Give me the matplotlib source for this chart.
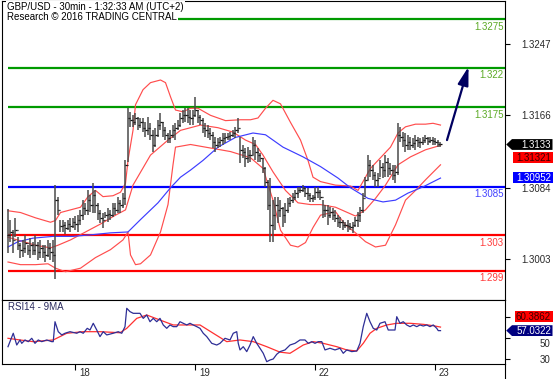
import matplotlib
matplotlib.use("Agg")
import matplotlib.pyplot as plt
from matplotlib.patches import Polygon
from matplotlib.lines import Line2D
from matplotlib.transforms import ScaledTranslation

plt.rcParams['font.family'] = ['Liberation Sans', 'DejaVu Sans']

# ---------------- data ----------------
title_line1 = "GBP/USD - 30min - 1:32:33 AM (UTC+2)"
title_line2 = "Research \u00a9 2016 TRADING CENTRAL"
rsi_title = "RSI14 - 9MA"

high = [1.3060, 1.3048, 1.3036, 1.3050, 1.3028, 1.3021, 1.3025, 1.3031, 1.3019, 1.3027,
        1.3023, 1.3031, 1.3023, 1.3025, 1.3019, 1.3019, 1.3025, 1.3021, 1.3025, 1.3087,
        1.3074, 1.3048, 1.3048, 1.3045, 1.3048, 1.3050, 1.3050, 1.3052, 1.3053, 1.3059,
        1.3070, 1.3067, 1.3081, 1.3076, 1.3089, 1.3081, 1.3067, 1.3059, 1.3055, 1.3057,
        1.3061, 1.3059, 1.3067, 1.3067, 1.3074, 1.3070, 1.3078, 1.3115, 1.3174, 1.3170,
        1.3166, 1.3169, 1.3164, 1.3163, 1.3163, 1.3158, 1.3164, 1.3157, 1.3149, 1.3152,
        1.3161, 1.3169, 1.3158, 1.3153, 1.3146, 1.3149, 1.3155, 1.3157, 1.3161, 1.3169,
        1.3172, 1.3174, 1.3174, 1.3172, 1.3172, 1.3187, 1.3172, 1.3166, 1.3163, 1.3157,
        1.3155, 1.3152, 1.3147, 1.3141, 1.3140, 1.3141, 1.3146, 1.3146, 1.3146, 1.3147,
        1.3149, 1.3153, 1.3163, 1.3141, 1.3132, 1.3129, 1.3130, 1.3127, 1.3141, 1.3138,
        1.3129, 1.3123, 1.3118, 1.3108, 1.3093, 1.3095, 1.3070, 1.3074, 1.3074, 1.3070,
        1.3062, 1.3067, 1.3072, 1.3074, 1.3078, 1.3081, 1.3085, 1.3085, 1.3087, 1.3085,
        1.3084, 1.3078, 1.3076, 1.3085, 1.3085, 1.3081, 1.3070, 1.3065, 1.3065, 1.3062,
        1.3061, 1.3059, 1.3053, 1.3051, 1.3048, 1.3045, 1.3048, 1.3044, 1.3045, 1.3051,
        1.3057, 1.3062, 1.3078, 1.3096, 1.3121, 1.3115, 1.3110, 1.3102, 1.3101, 1.3115,
        1.3112, 1.3121, 1.3118, 1.3112, 1.3110, 1.3110, 1.3157, 1.3153, 1.3147, 1.3146,
        1.3144, 1.3141, 1.3140, 1.3144, 1.3141, 1.3140, 1.3141, 1.3144, 1.3141, 1.3141,
        1.3141, 1.3140, 1.3138, 1.3136]

low = [1.3010, 1.3023, 1.3010, 1.3028, 1.3014, 1.3005, 1.3006, 1.3010, 1.3008, 1.3005,
       1.3008, 1.3008, 1.3002, 1.3005, 1.3005, 1.3000, 1.3006, 1.3002, 1.3000, 1.2981,
       1.3053, 1.3034, 1.3034, 1.3032, 1.3036, 1.3034, 1.3038, 1.3036, 1.3034, 1.3042,
       1.3048, 1.3053, 1.3053, 1.3057, 1.3055, 1.3055, 1.3048, 1.3044, 1.3038, 1.3050,
       1.3045, 1.3048, 1.3051, 1.3053, 1.3055, 1.3055, 1.3061, 1.3065, 1.3113, 1.3153,
       1.3153, 1.3155, 1.3149, 1.3152, 1.3147, 1.3141, 1.3144, 1.3138, 1.3124, 1.3130,
       1.3141, 1.3149, 1.3141, 1.3138, 1.3135, 1.3135, 1.3140, 1.3138, 1.3149, 1.3153,
       1.3157, 1.3158, 1.3157, 1.3155, 1.3155, 1.3164, 1.3157, 1.3155, 1.3146, 1.3141,
       1.3140, 1.3138, 1.3129, 1.3124, 1.3129, 1.3130, 1.3132, 1.3135, 1.3138, 1.3138,
       1.3141, 1.3140, 1.3146, 1.3112, 1.3118, 1.3108, 1.3112, 1.3113, 1.3121, 1.3115,
       1.3113, 1.3113, 1.3101, 1.3085, 1.3059, 1.3023, 1.3023, 1.3036, 1.3044, 1.3051,
       1.3040, 1.3044, 1.3055, 1.3062, 1.3067, 1.3070, 1.3072, 1.3078, 1.3079, 1.3074,
       1.3070, 1.3068, 1.3068, 1.3070, 1.3072, 1.3070, 1.3050, 1.3051, 1.3042, 1.3050,
       1.3048, 1.3045, 1.3040, 1.3039, 1.3036, 1.3039, 1.3034, 1.3036, 1.3033, 1.3040,
       1.3040, 1.3045, 1.3055, 1.3074, 1.3093, 1.3096, 1.3093, 1.3085, 1.3085, 1.3096,
       1.3095, 1.3096, 1.3096, 1.3099, 1.3093, 1.3089, 1.3099, 1.3136, 1.3130, 1.3124,
       1.3127, 1.3127, 1.3129, 1.3127, 1.3130, 1.3129, 1.3132, 1.3135, 1.3132, 1.3135,
       1.3132, 1.3132, 1.3130, 1.3130]

close = [1.3031, 1.3034, 1.3025, 1.3036, 1.3019, 1.3014, 1.3016, 1.3021, 1.3014, 1.3019,
         1.3014, 1.3019, 1.3011, 1.3016, 1.3011, 1.3008, 1.3016, 1.3011, 1.3008, 1.3070,
         1.3059, 1.3041, 1.3042, 1.3038, 1.3043, 1.3041, 1.3045, 1.3043, 1.3048, 1.3053,
         1.3061, 1.3059, 1.3070, 1.3065, 1.3076, 1.3065, 1.3055, 1.3050, 1.3048, 1.3053,
         1.3054, 1.3053, 1.3061, 1.3059, 1.3067, 1.3065, 1.3072, 1.3110, 1.3163, 1.3161,
         1.3158, 1.3163, 1.3155, 1.3158, 1.3152, 1.3149, 1.3152, 1.3144, 1.3132, 1.3144,
         1.3155, 1.3158, 1.3149, 1.3144, 1.3140, 1.3144, 1.3149, 1.3152, 1.3155, 1.3163,
         1.3166, 1.3166, 1.3164, 1.3163, 1.3166, 1.3172, 1.3164, 1.3161, 1.3152, 1.3149,
         1.3146, 1.3144, 1.3136, 1.3132, 1.3136, 1.3138, 1.3140, 1.3141, 1.3143, 1.3144,
         1.3146, 1.3149, 1.3152, 1.3127, 1.3124, 1.3118, 1.3121, 1.3121, 1.3132, 1.3124,
         1.3121, 1.3118, 1.3106, 1.3091, 1.3065, 1.3042, 1.3053, 1.3065, 1.3059, 1.3061,
         1.3053, 1.3059, 1.3067, 1.3070, 1.3074, 1.3078, 1.3081, 1.3081, 1.3084, 1.3078,
         1.3076, 1.3072, 1.3074, 1.3079, 1.3079, 1.3074, 1.3059, 1.3059, 1.3053, 1.3057,
         1.3053, 1.3050, 1.3045, 1.3045, 1.3042, 1.3042, 1.3041, 1.3040, 1.3042, 1.3048,
         1.3053, 1.3059, 1.3072, 1.3093, 1.3110, 1.3104, 1.3099, 1.3093, 1.3095, 1.3108,
         1.3104, 1.3113, 1.3106, 1.3104, 1.3099, 1.3102, 1.3144, 1.3141, 1.3138, 1.3132,
         1.3136, 1.3132, 1.3135, 1.3138, 1.3136, 1.3136, 1.3138, 1.3140, 1.3137, 1.3138,
         1.3137, 1.3136, 1.3133, 1.3133]

bb_up_idx = [0, 5, 11, 17, 19, 21, 25, 29, 32, 35, 38, 42, 45, 47, 48, 50, 51, 54, 57, 61,
             63, 65, 67, 70, 73, 76, 81, 87, 93, 97, 100, 103, 106, 109, 113, 117, 120, 122,
             125, 131, 137, 140, 142, 145, 149, 153, 156, 159, 163, 167, 170, 173]
bb_up = [1.3058, 1.3056, 1.3050, 1.3045, 1.3047, 1.3056, 1.3059, 1.3062, 1.3074, 1.3081,
         1.3074, 1.3075, 1.3079, 1.3089, 1.3115, 1.3149, 1.3178, 1.3195, 1.3203, 1.3206,
         1.3203, 1.3187, 1.3172, 1.3170, 1.3174, 1.3174, 1.3166, 1.3160, 1.3161, 1.3161,
         1.3163, 1.3174, 1.3183, 1.3179, 1.3158, 1.3138, 1.3115, 1.3096, 1.3091, 1.3087,
         1.3086, 1.3081, 1.3091, 1.3106, 1.3118, 1.3130, 1.3146, 1.3153, 1.3156, 1.3156,
         1.3157, 1.3155]

bb_mid_idx = [0, 5, 11, 17, 20, 25, 31, 37, 43, 47, 50, 57, 64, 69, 77, 84, 90, 95, 99, 102,
              106, 111, 116, 121, 125, 131, 135, 139, 143, 147, 151, 156, 161, 167, 173]
bb_mid = [1.3028, 1.3024, 1.3019, 1.3016, 1.3019, 1.3025, 1.3034, 1.3043, 1.3053, 1.3059,
          1.3087, 1.3121, 1.3138, 1.3149, 1.3155, 1.3152, 1.3147, 1.3138, 1.3133, 1.3121,
          1.3102, 1.3081, 1.3067, 1.3065, 1.3065, 1.3062, 1.3057, 1.3052, 1.3059, 1.3072,
          1.3087, 1.3110, 1.3119, 1.3127, 1.3132]

bb_low_idx = [0, 5, 11, 16, 19, 23, 29, 35, 41, 46, 48, 49, 51, 53, 57, 61, 64, 66, 67, 73,
              81, 89, 97, 102, 106, 109, 113, 116, 119, 122, 125, 131, 135, 139, 143, 147,
              151, 155, 159, 163, 167, 173]
bb_low = [1.3000, 1.2997, 1.2997, 1.2998, 1.2993, 1.2989, 1.2993, 1.3005, 1.3014, 1.3025,
          1.3034, 1.3008, 1.2997, 1.2998, 1.3008, 1.3034, 1.3065, 1.3110, 1.3130, 1.3133,
          1.3129, 1.3125, 1.3118, 1.3106, 1.3070, 1.3036, 1.3019, 1.3017, 1.3022, 1.3039,
          1.3053, 1.3057, 1.3042, 1.3033, 1.3023, 1.3017, 1.3019, 1.3042, 1.3070, 1.3081,
          1.3093, 1.3110]

ma_idx = [0, 4, 10, 18, 26, 34, 41, 48, 53, 60, 65, 69, 73, 78, 84, 91, 98, 103, 110, 118,
          125, 132, 137, 144, 150, 155, 160, 166, 173]
ma = [1.3017, 1.3023, 1.3027, 1.3029, 1.3029, 1.3031, 1.3033, 1.3034, 1.3048, 1.3067,
      1.3084, 1.3096, 1.3104, 1.3115, 1.3130, 1.3141, 1.3146, 1.3144, 1.3130, 1.3119,
      1.3108, 1.3095, 1.3084, 1.3072, 1.3068, 1.3070, 1.3078, 1.3085, 1.3095]

rsi_idx = [0, 2.1, 3.5, 4.8, 5.5, 6.8, 8.1, 9.5, 10.8, 12.1, 13.5, 15.5, 17.5, 18.1, 18.8,
           20.1, 21.5, 22.8, 24.8, 27.5, 28.8, 30.1, 31.7, 32.8, 34.1, 35.5, 36.8, 38.1, 39.5,
           42.1, 44.1, 45.5, 46.8, 47.5, 48.8, 50.1, 51.5, 52.8, 54.1, 55.5, 56.8, 58.1, 59.5,
           60.8, 62.1, 63.5, 64.8, 66.1, 67.5, 68.8, 70.1, 71.5, 72.8, 74.1, 75.5, 76.8, 78.1,
           79.5, 81.5, 83.5, 84.8, 86.8, 88.8, 90.1, 91.5, 92.1, 92.8, 94.1, 95.5, 96.8, 98.1,
           99.5, 100.8, 102.1, 103.5, 104.8, 106.1, 107.5, 108.8, 110.8, 112.8, 114.8, 116.8,
           118.8, 120.1, 121.5, 122.8, 124.1, 125.5, 126.8, 128.8, 130.8, 132.8, 134.1, 135.5,
           137.5, 139.5, 140.8, 142.1, 143.5, 144.8, 146.1, 147.5, 148.8, 150.8, 152.1, 153.5,
           154.8, 155.5, 156.8, 158.1, 159.5, 160.8, 162.1, 163.5, 164.8, 166.1, 167.5, 168.8,
           170.1, 171.5, 172.1, 173]
rsi = [41.7, 54.5, 43.3, 48.1, 44.9, 48.1, 46.5, 49.7, 44.9, 48.1, 46.5, 48.1, 46.5, 46.5, 65.5,
       56.0, 52.9, 54.5, 56.0, 54.5, 56.0, 54.5, 59.2, 57.6, 64.0, 57.6, 51.3, 56.0, 52.9,
       54.5, 56.0, 54.5, 60.8, 78.3, 75.1, 73.5, 73.5, 73.5, 68.7, 71.9, 65.5, 68.7, 65.5,
       68.7, 62.4, 59.2, 62.4, 60.8, 60.8, 65.5, 64.0, 62.4, 64.0, 62.4, 60.8, 59.2, 54.5,
       51.3, 44.9, 43.3, 44.9, 49.7, 48.1, 54.5, 56.0, 44.9, 38.6, 41.7, 37.0, 43.3, 51.3,
       44.9, 40.2, 35.4, 27.4, 29.0, 30.0, 34.5, 37.0, 38.6, 43.3, 44.9, 48.1,
       48.1, 44.9, 46.5, 44.9, 46.5, 46.5, 38.6, 40.2, 38.6, 40.2, 35.4, 38.6,
       37.0, 37.6, 44.9, 60.8, 73.5, 65.5, 59.2, 57.6, 64.0, 65.5, 57.6, 57.6,
       57.6, 70.3, 64.0, 65.5, 62.4, 60.8, 62.4, 60.8, 62.4, 61.4, 62.4, 60.8,
       62.4, 59.2, 57.0, 57.0]

rsi_ma_idx = [0, 4.8, 10.1, 18.1, 23.5, 30.1, 36.8, 44.8, 47.5, 51.5, 55.5, 60.8, 66.1, 71.5,
              76.8, 82.1, 87.5, 92.8, 98.1, 103.5, 108.8, 112.8, 118.1, 122.1, 126.1, 131.5,
              135.5, 139.5, 142.1, 144.8, 147.5, 151.5, 155.5, 160.8, 166.1, 170.1, 173]
rsi_ma = [49.7, 48.1, 46.5, 48.1, 54.5, 56.0, 56.0, 55.0, 59.2, 68.7, 71.9, 67.1, 62.4, 62.4,
          62.4, 54.5, 46.5, 48.1, 46.5, 41.7, 36.5, 35.4, 43.3, 46.5, 44.9, 41.7,
          38.6, 37.6, 44.9, 54.5, 59.2, 62.4, 64.0, 64.0, 63.0, 61.7, 60.4]

day_ticks = [27, 75, 123, 171]
day_labels = ["18", "19", "22", "23"]
price_ticks = [1.3003, 1.3084, 1.3166, 1.3247]
rsi_ticks = [30, 50, 70]
rsi_tick_labels = ["30", "50", ""]   # the 70 label is hidden behind the MA tag

green_levels = [1.3275, 1.322, 1.3175]
green_labels = ["1.3275", "1.322", "1.3175"]
blue_levels = [1.3085]
blue_labels = ["1.3085"]
red_levels = [1.303, 1.299]
red_labels = ["1.303", "1.299"]

last_price = 1.3133
bb_mid_last = 1.31321
ma_last = 1.30952
rsi_last = 57.0322
rsi_ma_last = 60.3862

arrow_from = (175.6, 1.3138)
arrow_to = (184.2, 1.3221)

# ---------------- layout ----------------
W, H = 558, 379
fig = plt.figure(figsize=(W / 100, H / 100), dpi=100)
fig.patch.set_facecolor('white')


def fx(px):
    return px / W


def fy(py):
    return 1 - py / H


ax = fig.add_axes([fx(2), fy(300), fx(505) - fx(2), fy(1) - fy(300)])
ax2 = fig.add_axes([fx(2), fy(364), fx(505) - fx(2), fy(300) - fy(364)])
XL = (-2.4, 198.8)
for a in (ax, ax2):
    a.set_xlim(*XL)
    for s in a.spines.values():
        s.set_linewidth(0.8)
        s.set_color('black')
ax.set_ylim(1.29570, 1.32954)
ax2.set_ylim(25.2, 86.2)

# ---------------- main panel ----------------
idx = list(range(len(close)))
opens = [close[0]] + close[:-1]
ax.vlines(idx, low, high, colors='#4a4a4a', lw=1.1, zorder=4)
ax.hlines(opens, [i - 0.55 for i in idx], idx, colors='#111111', lw=0.9, zorder=4)
ax.hlines(close, idx, [i + 0.55 for i in idx], colors='#111111', lw=0.9, zorder=4)

ax.plot(bb_up_idx, bb_up, color='#ff4d4d', lw=0.85, zorder=3)
ax.plot(bb_mid_idx, bb_mid, color='#ff4d4d', lw=0.85, zorder=3)
ax.plot(bb_low_idx, bb_low, color='#ff4d4d', lw=0.85, zorder=3)
ax.plot(ma_idx, ma, color='#3d3dff', lw=0.85, zorder=3)

for lv_list, lab_list, lc, tc in ((green_levels, green_labels, '#009a00', '#5caa26'),
                                  (blue_levels, blue_labels, '#0000ff', '#4040ff'),
                                  (red_levels, red_labels, '#ff0000', '#ff3b3b')):
    ax.hlines(lv_list, 0, XL[1], colors=lc, lw=1.6, zorder=2)
    for lv, lab in zip(lv_list, lab_list):
        ax.annotate(lab, xy=(1, lv), xycoords=('axes fraction', 'data'), xytext=(-1, -1.8),
                    textcoords='offset points', ha='right', va='top', fontsize=7, color=tc,
                    zorder=5)

ax.annotate('', xy=arrow_to, xytext=arrow_from,
            arrowprops=dict(arrowstyle='-|>,head_length=1.1,head_width=0.32',
                            color='#000060', lw=1.6, shrinkA=0, shrinkB=0))

ax.set_xticks([])
ax.yaxis.tick_right()
ax.set_yticks(price_ticks)
ax.set_yticklabels([f"{v:.4f}" for v in price_ticks])
ax.tick_params(axis='y', direction='out', length=3.6, width=0.8, labelsize=7,
               labelcolor='#2a2a2a', pad=29.3)
for lab in ax.get_yticklabels():
    lab.set_horizontalalignment('right')

# ---------------- RSI panel ----------------
ax2.plot(rsi_idx, rsi, color='#2e2e96', lw=0.9, zorder=3)
ax2.plot(rsi_ma_idx, rsi_ma, color='#ff3030', lw=0.9, zorder=2)
ax2.yaxis.tick_right()
ax2.set_yticks(rsi_ticks)
ax2.set_yticklabels(rsi_tick_labels)
ax2.tick_params(axis='y', direction='out', length=3.6, width=0.8, labelsize=7,
                labelcolor='#2a2a2a', pad=29.3)
down = ScaledTranslation(0, -3.5 / 72, fig.dpi_scale_trans)
for t, v in zip(ax2.yaxis.get_major_ticks(), rsi_ticks):
    t.label2.set_horizontalalignment('right')
    if v == 50:
        t.label2.set_transform(t.label2.get_transform() + down)
ax2.set_xticks(day_ticks)
ax2.set_xticklabels(day_labels)
ax2.tick_params(axis='x', direction='out', length=4, width=0.8, labelsize=7,
                labelcolor='#2a2a2a', pad=-1)
off = ScaledTranslation(2.5 / 72, 0, fig.dpi_scale_trans)
for t in ax2.xaxis.get_major_ticks():
    t.label1.set_horizontalalignment('left')
    t.label1.set_transform(t.label1.get_transform() + off)

fig.text(fx(8), fy(306.5), rsi_title, ha='left', va='center', fontsize=7, color='#2b2b5e')

# right axis extension below the RSI panel
fig.add_artist(Line2D([fx(505), fx(505)], [fy(364), fy(379)], transform=fig.transFigure,
                      color='black', lw=0.8))

# ---------------- titles ----------------
fig.text(fx(7), fy(6.5), title_line1, ha='left', va='center', fontsize=7, color='black',
         bbox=dict(fc='white', ec='none', pad=0.6))
fig.text(fx(7), fy(16.5), title_line2, ha='left', va='center', fontsize=7, color='black',
         bbox=dict(fc='white', ec='none', pad=0.6))


# ---------------- value tags ----------------
def tag(axis, value, text, fc, tc, dy=0.0, arrow=False, x0=512.5):
    yd = axis.transData.transform((0, value))[1]
    yc = H - yd + dy
    h = 5.4
    if arrow:
        pts = [(506.2, yc), (512, yc - h), (552.5, yc - h), (552.5, yc + h), (512, yc + h)]
    else:
        pts = [(x0, yc - h), (552.5, yc - h), (552.5, yc + h), (x0, yc + h)]
    fig.add_artist(Polygon([(fx(px), fy(py)) for px, py in pts], closed=True,
                           transform=fig.transFigure, fc=fc, ec='none', zorder=5))
    fig.text(fx(551), fy(yc + 0.3), text, ha='right', va='center', fontsize=7, color=tc,
             zorder=6)


tag(ax, last_price, f"{last_price:.4f}", 'black', 'white', arrow=True)
tag(ax, bb_mid_last, f"{bb_mid_last:.5f}", '#ff0000', '#3a0000', dy=12.2)
tag(ax, ma_last, f"{ma_last:.5f}", '#0000ff', 'white')
tag(ax2, rsi_ma_last, f"{rsi_ma_last:.4f}", '#ff0000', '#3a0000', dy=-10.2, x0=515)
tag(ax2, rsi_last, f"{rsi_last:.4f}", '#000080', 'white', arrow=True)

fig.savefig('out.png', dpi=100)
